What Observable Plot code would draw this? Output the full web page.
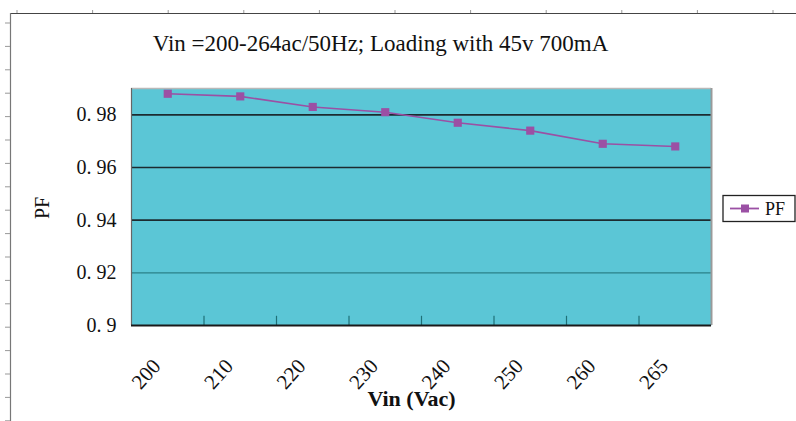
<!DOCTYPE html>
<html><head><meta charset="utf-8">
<script src="https://cdn.jsdelivr.net/npm/d3@7"></script>
<script src="https://cdn.jsdelivr.net/npm/@observablehq/plot@0.6"></script>
<style>
body{margin:0;background:#fff;}
#wrap{position:relative;width:796px;height:421px;overflow:hidden;font-family:"Liberation Serif",serif;}
#wrap svg{position:absolute;left:0;top:0}
</style></head><body><div id="wrap"></div>
<script>
const categories = ["200","210","220","230","240","250","260","265"];
const pf = [0.988,0.987,0.983,0.981,0.977,0.974,0.969,0.968];
const yTicks = [0.9,0.92,0.94,0.96,0.98];
const yTickLabels = ["0. 9","0. 92","0. 94","0. 96","0. 98"];
const title = "Vin =200-264ac/50Hz; Loading with 45v 700mA";
const xLabel = "Vin (Vac)";
const yLabel = "PF";
const seriesName = "PF";

const data = categories.map((c,i)=>({i:i+0.5, vin:c, pf:pf[i]}));
const bounds = d3.range(1, categories.length);
const purple = "#9b50a4";

const chart = Plot.plot({
  width:796, height:421, marginLeft:131, marginRight:85, marginTop:88, marginBottom:96,
  style:{fontFamily:"Liberation Serif", background:"transparent", overflow:"visible", color:"#111"},
  x:{domain:[0,categories.length], axis:null},
  y:{domain:[0.9,0.99], axis:null},
  marks:[
    Plot.frame({fill:"#5bc6d6", stroke:null}),
    Plot.ruleY(yTicks.filter(v=>v>=0.94), {stroke:"#1c2b30", strokeWidth:1.6}),
    Plot.ruleY([0.92], {stroke:"#2a8088", strokeWidth:1.2}),
    Plot.ruleY([0.99], {stroke:"#b8b8b8", strokeWidth:1.5}),
    Plot.ruleX([categories.length], {stroke:"#9a9a9a", strokeWidth:2}),
    Plot.ruleX([0], {stroke:"#666", strokeWidth:1.2}),
    Plot.ruleX(bounds, {y1:0.9, y2:0.9035, stroke:"#1f7077", strokeWidth:1.2}),
    Plot.ruleY([0.9], {stroke:"#1a1a1a", strokeWidth:2}),
    Plot.line(data, {x:"i", y:"pf", stroke:purple, strokeWidth:1.6}),
    Plot.dot(data, {x:"i", y:"pf", symbol:"square", fill:purple, stroke:null, r:4.6}),
    Plot.axisY(yTicks, {tickSize:0, tickPadding:15, tickFormat:d=>yTickLabels[yTicks.indexOf(d)], fontSize:20, label:null}),
    Plot.axisX(data.map(d=>d.i), {tickSize:0, tickRotate:-48, tickPadding:37, dx:-11, tickFormat:d=>categories[Math.floor(d)], fontSize:21, label:null}),
    Plot.text([yLabel], {text:d=>d, frameAnchor:"left", dx:-89, dy:12, rotate:-90, fontSize:20, lineAnchor:"middle"}),
    Plot.text([xLabel], {text:d=>d, frameAnchor:"bottom", dy:73, dx:-10, fontSize:22, fontWeight:"bold", lineAnchor:"middle"}),
    Plot.text([title], {text:d=>d, frameAnchor:"top", dy:-45, dx:-41, fontSize:23, lineAnchor:"middle", letterSpacing:0.4})
  ]
});
document.getElementById("wrap").appendChild(chart);

// page ruler / chart-area border and legend overlay
const ov = d3.select("#wrap").append("svg").attr("width",796).attr("height",421);
ov.append("line").attr("x1",10).attr("x2",796).attr("y1",13.5).attr("y2",13.5).attr("stroke","#444").attr("stroke-width",1.2);
ov.append("line").attr("x1",10.5).attr("x2",10.5).attr("y1",13).attr("y2",421).attr("stroke","#777").attr("stroke-width",1.2);
ov.selectAll("line.tt").data(d3.range(17, 796, 75.6)).join("line").attr("class","tt")
  .attr("x1",d=>d).attr("x2",d=>d).attr("y1",10).attr("y2",13).attr("stroke","#999");
ov.selectAll("line.lt").data(d3.range(23, 421, 23.4)).join("line").attr("class","lt")
  .attr("x1",5).attr("x2",10).attr("y1",d=>d).attr("y2",d=>d).attr("stroke","#999");
const lg = ov.append("g");
lg.append("rect").attr("x",723).attr("y",195.5).attr("width",72).attr("height",26).attr("fill","#fff").attr("stroke","#222").attr("stroke-width",1.3);
lg.append("line").attr("x1",730).attr("x2",759).attr("y1",208.5).attr("y2",208.5).attr("stroke",purple).attr("stroke-width",1.8);
lg.append("rect").attr("x",741).attr("y",204.5).attr("width",8).attr("height",8).attr("fill",purple);
lg.append("text").attr("x",765).attr("y",215).attr("font-size",18).attr("font-family","Liberation Serif").attr("fill","#111").text(seriesName);
</script></body></html>
